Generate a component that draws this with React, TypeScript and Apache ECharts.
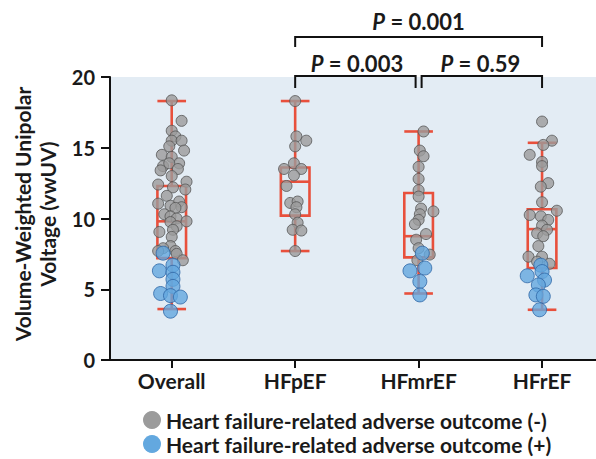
import React, { useEffect, useRef } from "react";
import * as echarts from "echarts";

const categories = ["Overall", "HFpEF", "HFmrEF", "HFrEF"];

// Box statistics per category: [min, q1, median, q3, max]
const boxMin = [3.6, 7.7, 4.7, 3.55];
const boxQ1 = [7.2, 10.2, 7.25, 6.5];
const boxMedian = [9.8, 12.6, 8.75, 9.25];
const boxQ3 = [12.3, 13.6, 11.8, 10.65];
const boxMax = [18.3, 18.3, 16.15, 15.35];

// Outcome (-) values and horizontal jitter (fraction of a category)
const overallNeg = [18.35, 16.9, 16.2, 15.8, 15.5, 15.5, 15.1, 14.8, 14.5, 14.35, 13.9, 13.7, 13.9, 13.5, 13.4, 13.0, 12.4, 12.6, 12.2, 12.05, 11.6, 11.2, 11.05, 10.9, 10.8, 10.75, 10.3, 10.15, 10.0, 9.8, 9.75, 9.45, 9.2, 9.05, 8.7, 8.05, 7.9, 7.7, 7.7, 7.5, 7.05];
const overallNegJitter = [0.0, 0.08, 0.0, 0.03, 0.0, 0.08, -0.02, 0.1, -0.08, 0.0, 0.06, -0.07, -0.02, 0.05, -0.09, 0.0, -0.11, 0.12, 0.01, 0.11, -0.04, 0.06, -0.11, -0.01, 0.08, 0.03, -0.06, -0.01, 0.04, 0.12, -0.01, 0.04, 0.01, -0.1, 0.0, -0.01, -0.07, -0.11, 0.03, 0.04, 0.09];
const hfpefNeg = [18.3, 15.8, 15.5, 15.1, 13.9, 13.5, 13.5, 13.05, 12.3, 11.1, 11.2, 10.8, 10.3, 9.7, 9.2, 9.15, 7.7];
const hfpefNegJitter = [0.0, 0.01, 0.09, 0.0, -0.01, -0.09, 0.05, -0.01, -0.07, -0.04, 0.02, 0.01, 0.0, 0.02, -0.02, 0.05, 0.0];
const hfmrefNeg = [16.15, 14.8, 14.4, 13.65, 12.8, 12.0, 11.55, 10.7, 10.5, 10.3, 9.9, 9.6, 8.9, 8.5, 7.9, 7.45, 7.05];
const hfmrefNegJitter = [0.04, 0.01, 0.04, 0.0, 0.0, 0.0, 0.0, 0.02, 0.12, 0.01, 0.0, -0.03, 0.06, -0.02, 0.0, 0.09, -0.01];
const hfrefNeg = [16.85, 15.5, 15.2, 14.5, 14.0, 13.7, 12.5, 12.25, 11.15, 10.55, 10.25, 10.15, 9.9, 9.5, 9.2, 8.95, 8.75, 8.05, 7.3, 7.3, 6.95, 6.8];
const hfrefNegJitter = [0.0, 0.08, 0.01, -0.1, 0.0, 0.0, 0.05, -0.01, 0.0, 0.12, -0.1, -0.01, 0.05, 0.0, 0.04, -0.04, 0.01, -0.03, -0.11, 0.0, -0.04, 0.06];

// Outcome (+) values and jitter
const overallPos = [7.55, 6.7, 6.3, 6.2, 5.7, 5.2, 4.7, 4.55, 4.45, 3.45];
const overallPosJitter = [-0.07, 0.01, -0.1, 0.01, 0.01, 0.01, -0.09, -0.01, 0.07, -0.01];
const hfpefPos: number[] = [];
const hfpefPosJitter: number[] = [];
const hfmrefPos = [7.55, 6.5, 6.3, 5.55, 4.6];
const hfmrefPosJitter = [0.03, 0.05, -0.07, 0.01, 0.01];
const hfrefPos = [6.7, 6.25, 5.95, 5.65, 5.3, 4.6, 4.5, 3.55];
const hfrefPosJitter = [-0.01, 0.0, -0.12, 0.02, -0.03, -0.05, 0.01, -0.02];

const yTicks = [0, 5, 10, 15, 20];

const legendNames = [
  "Heart failure-related adverse outcome (-)",
  "Heart failure-related adverse outcome (+)",
];

const FONT = "Lato";
const RED = "#e8503c";
const GRAY = "#9b9b9b";
const BLUE = "#63a8df";

export default function App() {
  const ref = useRef<HTMLDivElement>(null);

  useEffect(() => {
    if (!ref.current) return;
    const chart = echarts.init(ref.current, undefined, { renderer: "svg" });

    const negGroups = [
      [overallNeg, overallNegJitter],
      [hfpefNeg, hfpefNegJitter],
      [hfmrefNeg, hfmrefNegJitter],
      [hfrefNeg, hfrefNegJitter],
    ];
    const posGroups = [
      [overallPos, overallPosJitter],
      [hfpefPos, hfpefPosJitter],
      [hfmrefPos, hfmrefPosJitter],
      [hfrefPos, hfrefPosJitter],
    ];
    const build = (groups: number[][][]) => {
      const out: number[][] = [];
      groups.forEach(([vals, jit], k) => {
        vals.forEach((v, i) => out.push([k + (jit[i] || 0), v]));
      });
      return out;
    };
    const negData = build(negGroups);
    const posData = build(posGroups);

    const boxData = categories.map((_, k) => [
      k,
      boxMin[k],
      boxQ1[k],
      boxMedian[k],
      boxQ3[k],
      boxMax[k],
    ]);

    const option: any = {
      animation: false,
      grid: {
        left: 110,
        right: 0,
        top: 77,
        bottom: 99,
        show: true,
        backgroundColor: "#e3ecf4",
        borderWidth: 0,
      },
      xAxis: {
        type: "value",
        min: -0.5,
        max: 3.437,
        splitLine: { show: false },
        axisLine: { show: true, onZero: false, lineStyle: { color: "#111", width: 2 } },
        axisTick: {
          show: true,
          customValues: [0, 1, 2, 3],
          length: 8,
          lineStyle: { color: "#111", width: 2 },
        },
        axisLabel: {
          customValues: [0, 1, 2, 3],
          formatter: (v: number) => categories[Math.round(v)] ?? "",
          color: "#1a1a1a",
          fontFamily: FONT,
          fontWeight: "bold",
          fontSize: 21,
          margin: 10,
        },
      },
      yAxis: {
        type: "value",
        min: yTicks[0],
        max: yTicks[yTicks.length - 1],
        interval: 5,
        splitLine: { show: false },
        axisLine: { show: true, onZero: false, lineStyle: { color: "#111", width: 2 } },
        axisTick: { show: true, length: 9, lineStyle: { color: "#111", width: 2 } },
        axisLabel: {
          color: "#1a1a1a",
          fontFamily: FONT,
          fontWeight: "bold",
          fontSize: 20,
          margin: 15,
        },
      },
      series: [
        {
          type: "custom",
          data: boxData,
          encode: { x: 0, y: [1, 2, 3, 4, 5] },
          z: 1,
          renderItem: (params: any, api: any) => {
            const x = api.value(0);
            const lo = api.value(1);
            const q1 = api.value(2);
            const med = api.value(3);
            const q3 = api.value(4);
            const hi = api.value(5);
            const half = api.size([0.232, 0])[0] / 2;
            const pLo = api.coord([x, lo]);
            const pQ1 = api.coord([x, q1]);
            const pMed = api.coord([x, med]);
            const pQ3 = api.coord([x, q3]);
            const pHi = api.coord([x, hi]);
            const style = { stroke: RED, lineWidth: 2.6, fill: "none" };
            const ln = (x1: number, y1: number, x2: number, y2: number) => ({
              type: "line",
              shape: { x1, y1, x2, y2 },
              style,
            });
            const cx = pMed[0];
            return {
              type: "group",
              children: [
                ln(cx, pHi[1], cx, pQ3[1]),
                ln(cx, pQ1[1], cx, pLo[1]),
                ln(cx - half, pHi[1], cx + half, pHi[1]),
                ln(cx - half, pLo[1], cx + half, pLo[1]),
                {
                  type: "rect",
                  shape: { x: cx - half, y: pQ3[1], width: half * 2, height: pQ1[1] - pQ3[1] },
                  style,
                },
                ln(cx - half, pMed[1], cx + half, pMed[1]),
              ],
            };
          },
        },
        {
          type: "scatter",
          name: legendNames[0],
          data: negData,
          symbolSize: 11,
          z: 2,
          itemStyle: { color: GRAY, borderColor: "#555", borderWidth: 1 },
        },
        {
          type: "scatter",
          name: legendNames[1],
          data: posData,
          symbolSize: 14,
          z: 3,
          itemStyle: { color: BLUE, borderColor: "#2e67a6", borderWidth: 1 },
        },
      ],
    };
    chart.setOption(option);

    const px = (k: number) => chart.convertToPixel({ gridIndex: 0 }, [k, 0])[0];
    const x1 = px(1);
    const x2 = px(2);
    const x3 = px(3);
    const bracketStyle = { stroke: "#111", lineWidth: 2, fill: "none" };
    const pText = (x: number, y: number, value: string) => ({
      type: "text",
      x,
      y,
      style: {
        text: `{i|P}{b| = ${value}}`,
        align: "center",
        verticalAlign: "middle",
        rich: {
          i: { fontFamily: FONT, fontWeight: "bold", fontStyle: "italic", fontSize: 22, fill: "#1a1a1a" },
          b: { fontFamily: FONT, fontWeight: "bold", fontSize: 22, fill: "#1a1a1a" },
        },
      },
    });
    const axisTitle = (x: number, text: string) => ({
      type: "text",
      x,
      y: 214,
      rotation: Math.PI / 2,
      style: {
        text,
        align: "center",
        verticalAlign: "middle",
        fontFamily: FONT,
        fontWeight: "bold",
        fontSize: 21,
        fill: "#1a1a1a",
      },
    });
    const legendText = (y: number, text: string) => ({
      type: "text",
      x: 166,
      y,
      style: {
        text,
        align: "left",
        verticalAlign: "middle",
        fontFamily: FONT,
        fontWeight: "bold",
        fontSize: 21,
        fill: "#1a1a1a",
      },
    });

    chart.setOption({
      graphic: [
        {
          type: "polyline",
          shape: { points: [[x1, 47], [x1, 37], [x3, 37], [x3, 47]] },
          style: bracketStyle,
        },
        {
          type: "polyline",
          shape: { points: [[x1, 88], [x1, 76], [x2 - 3, 76], [x2 - 3, 88]] },
          style: bracketStyle,
        },
        {
          type: "polyline",
          shape: { points: [[x2 + 3, 88], [x2 + 3, 76], [x3, 76], [x3, 88]] },
          style: bracketStyle,
        },
        pText((x1 + x3) / 2, 21, "0.001"),
        pText((x1 + x2) / 2, 63, "0.003"),
        pText((x2 + x3) / 2, 63, "0.59"),
        axisTitle(22, "Volume-Weighted Unipolar"),
        axisTitle(47, "Voltage (vwUV)"),
        { type: "circle", shape: { cx: 152, cy: 420, r: 9 }, style: { fill: GRAY } },
        { type: "circle", shape: { cx: 152, cy: 444, r: 9 }, style: { fill: BLUE } },
        legendText(420, legendNames[0]),
        legendText(444, legendNames[1]),
      ],
    });

    return () => chart.dispose();
  }, []);

  return (
    <div
      ref={ref}
      style={{ position: "absolute", left: 0, top: 0, width: 596, height: 459 }}
    />
  );
}
